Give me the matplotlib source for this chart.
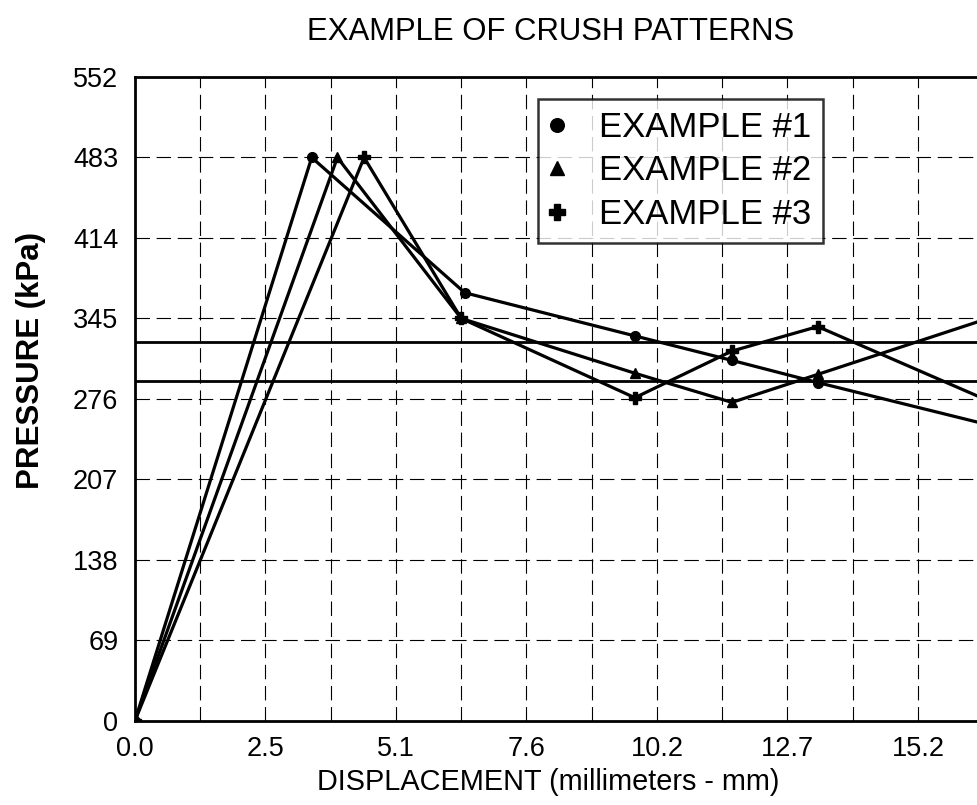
import matplotlib
matplotlib.use("Agg")
import matplotlib.pyplot as plt

plt.rcParams['font.family'] = ['Liberation Sans', 'DejaVu Sans']

# displacement (mm) and pressure (kPa)
x_ex1 = [0.0, 3.44, 6.42, 9.73, 11.62, 13.29, 17.78]
y_ex1 = [0, 483, 367, 330, 309, 290, 241]

x_ex2 = [0.0, 3.94, 6.35, 9.73, 11.62, 13.29, 17.78]
y_ex2 = [0, 483, 345, 298, 273, 297, 362]

x_ex3 = [0.0, 4.46, 6.35, 9.73, 11.62, 13.29, 17.78]
y_ex3 = [0, 483, 345, 277, 317, 338, 252]

ref_lines = [325, 291]

y_ticks = [0, 69, 138, 207, 276, 345, 414, 483, 552]
x_ticks = [0.0, 2.54, 5.08, 7.62, 10.16, 12.7, 15.24]
x_tick_labels = ['0.0', '2.5', '5.1', '7.6', '10.2', '12.7', '15.2']
x_grid = [1.27 * i for i in range(1, 14)]

fig = plt.figure(figsize=(9.78, 8.05), dpi=100)
ax = fig.add_axes([0.138, 0.1047, 0.934, 0.7996])

# grid
for gx in x_grid:
    ax.axvline(gx, color='black', lw=0.8, ls=(0, (13, 6)), zorder=1)
for gy in y_ticks[1:]:
    ax.axhline(gy, color='black', lw=0.8, ls=(0, (13, 6)), zorder=1)
for ry in ref_lines:
    ax.axhline(ry, color='black', lw=2, zorder=2)

ax.plot(x_ex1, y_ex1, color='black', lw=2.3, marker='o', ms=7, label='EXAMPLE #1', zorder=3)
ax.plot(x_ex2, y_ex2, color='black', lw=2.3, marker='^', ms=7.5, label='EXAMPLE #2', zorder=3)
ax.plot(x_ex3, y_ex3, color='black', lw=2.3, marker='P', ms=8, label='EXAMPLE #3', zorder=3)

ax.set_xlim(0, 17.78)
ax.set_ylim(0, 552)
ax.set_xticks(x_ticks)
ax.set_xticklabels(x_tick_labels)
ax.set_yticks(y_ticks)
ax.tick_params(length=0, labelsize=19.5, pad=11)
ax.tick_params(axis='y', pad=12)
for s in ax.spines.values():
    s.set_linewidth(2)

leg = ax.legend(loc='upper left', bbox_to_anchor=(0.441, 0.966), fontsize=25,
                frameon=True, fancybox=False, handlelength=0.4, handletextpad=1.0,
                markerscale=1.4, borderpad=0.35, labelspacing=0.3, borderaxespad=0)
leg.get_frame().set_edgecolor('black')
leg.get_frame().set_linewidth(1.8)
for h in leg.legend_handles:
    h.set_linestyle('')

fig.text(0.563, 0.96, 'EXAMPLE OF CRUSH PATTERNS', ha='center', va='center', fontsize=22.4)
fig.text(0.561, 0.029, 'DISPLACEMENT (millimeters - mm)', ha='center', va='center', fontsize=20.8)
fig.text(0.032, 0.552, 'PRESSURE (kPa)', ha='center', va='center', rotation=90,
         fontsize=22.5, fontweight='bold')

fig.savefig('out.png', dpi=100)
